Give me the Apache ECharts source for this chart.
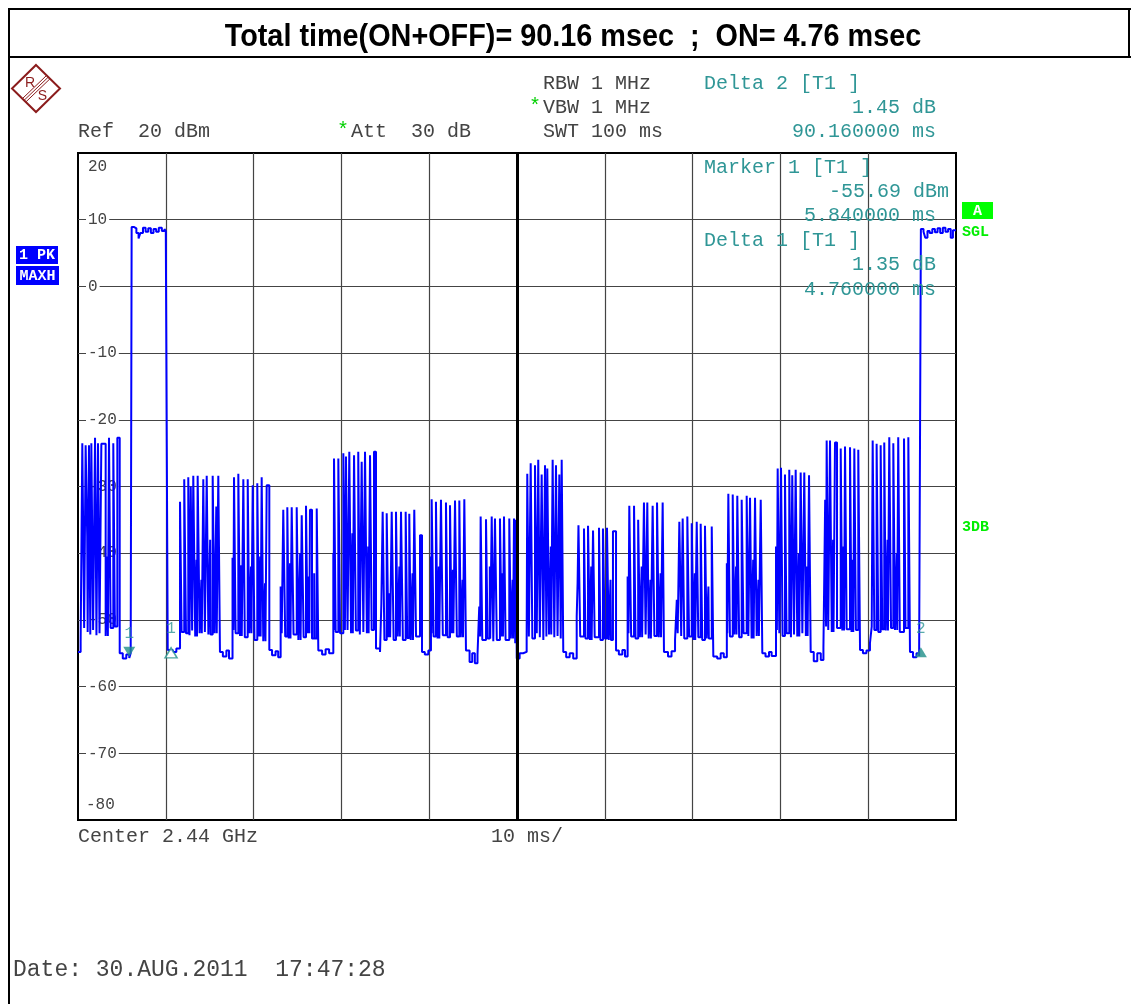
<!DOCTYPE html>
<html>
<head>
<meta charset="utf-8">
<title>Total time(ON+OFF)</title>
<script src="https://cdn.jsdelivr.net/npm/echarts@6/dist/echarts.min.js"></script>
<style>
html, body { margin: 0; padding: 0; background: #fff; }
#box1 { width: 1131px; height: 1004px; }
</style>
</head>
<body>
<div id="box1"></div>
<script>
const leadIn = [[0, -54.8], [0.3, -53.3]];
const burst01 = [[0.49,-23.5],[0.7,-51.2],[0.87,-23.8],[1.05,-37.5],[1.1,-51.8],[1.25,-23.8],[1.4,-52.2],[1.52,-23.5],[1.72,-51.5],[1.94,-22.7],[2.1,-52.3],[2.28,-23.5],[2.45,-52.0],[2.66,-23.6],[3.15,-52.4],[3.32,-40.5],[3.4,-52.4],[3.53,-22.7],[3.72,-51.2],[4.02,-23.5],[4.2,-51.0],[4.48,-22.7],[4.75,-55.0],[5.1,-55.8],[5.5,-55.2],[5.84,-55.7],[6.0,-55.0]];
const onPulse1 = [[6.11,8.9],[6.4,8.7],[6.65,8.0],[6.9,7.2],[7.1,8.0],[7.4,8.8],[7.7,8.2],[8.0,8.7],[8.3,8.0],[8.6,8.6],[8.9,8.2],[9.2,8.8],[9.55,8.3],[9.85,8.6],[10.0,8.3],[10.22,-54.5]];
const burst02 = [[10.8,-54.8],[11.2,-54.3],[11.62,-32.3],[11.8,-51.8],[12.1,-28.9],[12.3,-52.0],[12.56,-28.6],[12.7,-52.3],[12.84,-30.0],[13.0,-51.6],[13.13,-28.4],[13.35,-52.5],[13.5,-41.0],[13.55,-52.5],[13.63,-28.4],[13.85,-52.0],[14.05,-44.0],[14.1,-52.0],[14.27,-28.9],[14.45,-51.8],[14.66,-28.4],[14.85,-52.2],[15.05,-38.0],[15.1,-52.2],[15.34,-28.4],[15.55,-52.0],[15.75,-33.0],[15.8,-52.0],[15.98,-28.4],[16.17,-54.8],[16.5,-55.5],[16.9,-54.6],[17.2,-55.8]];
const burst03 = [[17.6,-40.7],[17.7,-51.5],[17.77,-28.6],[17.95,-52.0],[18.26,-28.1],[18.45,-52.4],[18.6,-41.8],[18.65,-52.4],[18.83,-28.9],[19.0,-52.6],[19.33,-28.9],[19.5,-52.0],[19.7,-42.0],[19.75,-52.0],[19.9,-29.8],[20.1,-53.0],[20.42,-29.5],[20.6,-52.5],[20.75,-40.5],[20.8,-52.5],[20.92,-28.6],[21.1,-53.2],[21.3,-44.5],[21.35,-53.2],[21.49,-29.8],[21.79,-54.5],[22.1,-55.3],[22.5,-54.7],[22.8,-55.6]];
const burst04 = [[23.08,-45.0],[23.2,-52.0],[23.38,-33.5],[23.6,-52.5],[23.84,-33.1],[24.0,-52.8],[24.15,-41.5],[24.2,-52.8],[24.34,-33.1],[24.55,-52.2],[24.91,-33.1],[25.1,-53.0],[25.3,-40.0],[25.35,-53.0],[25.48,-34.3],[25.7,-52.6],[25.97,-32.9],[26.15,-52.0],[26.3,-43.5],[26.35,-52.0],[26.42,-33.5],[26.65,-52.8],[26.9,-43.0],[26.95,-52.8],[27.19,-33.3],[27.37,-54.6],[27.8,-55.2],[28.2,-54.4],[28.6,-55.0]];
const burst05 = [[29.08,-40.0],[29.12,-51.5],[29.16,-25.8],[29.35,-51.8],[29.65,-25.8],[29.85,-52.0],[30.22,-25.0],[30.4,-51.5],[30.52,-25.5],[30.7,-51.5],[30.9,-24.8],[31.1,-52.0],[31.25,-37.0],[31.3,-52.0],[31.44,-25.3],[31.65,-51.6],[31.92,-24.8],[32.1,-52.2],[32.31,-26.3],[32.5,-51.8],[32.69,-24.8],[32.9,-52.0],[33.05,-39.0],[33.1,-52.0],[33.26,-25.3],[33.45,-51.5],[33.71,-24.8],[33.94,-54.3]];
const burst06 = [[34.4,-54.8],[34.55,-47.5],[34.7,-33.8],[34.9,-53.0],[35.16,-34.0],[35.35,-52.6],[35.5,-46.0],[35.55,-52.6],[35.73,-33.8],[35.95,-53.0],[36.22,-33.8],[36.4,-52.5],[36.6,-42.0],[36.65,-52.5],[36.79,-33.8],[37.0,-53.0],[37.32,-33.8],[37.5,-52.7],[37.73,-34.1],[37.9,-53.0],[38.1,-43.0],[38.15,-53.0],[38.3,-33.5],[38.5,-52.5],[38.95,-37.3],[39.18,-54.8],[39.5,-55.2],[39.9,-54.6]];
const burst07 = [[40.2,-40.5],[40.25,-52.0],[40.28,-31.9],[40.5,-52.5],[40.77,-32.3],[40.95,-52.8],[41.1,-42.0],[41.15,-52.8],[41.34,-32.0],[41.55,-52.3],[41.91,-32.4],[42.1,-52.6],[42.37,-32.8],[42.55,-52.0],[42.7,-42.5],[42.75,-52.0],[42.94,-32.1],[43.15,-52.5],[43.43,-32.1],[43.6,-52.6],[43.8,-44.0],[43.85,-52.6],[44.0,-31.9],[44.19,-54.6],[44.6,-56.3],[44.9,-55.0],[45.2,-56.5],[45.5,-55.3]];
const burst08 = [[45.7,-48.0],[45.8,-52.5],[45.86,-34.5],[46.05,-53.0],[46.47,-34.9],[46.65,-52.8],[46.9,-42.0],[46.95,-52.8],[47.12,-34.5],[47.3,-53.2],[47.49,-34.8],[47.7,-53.0],[48.06,-34.8],[48.25,-52.5],[48.35,-43.0],[48.4,-52.5],[48.52,-34.5],[48.7,-53.0],[49.12,-34.8],[49.3,-52.8],[49.5,-44.0],[49.55,-52.8],[49.66,-34.8],[49.8,-53.5],[49.89,-35.0],[49.97,-55.8],[50.3,-55.0],[50.7,-54.8]];
const burst09 = [[51.1,-53.0],[51.17,-28.1],[51.35,-52.5],[51.56,-26.5],[51.75,-52.8],[52.05,-26.8],[52.25,-52.0],[52.42,-26.0],[52.6,-52.6],[52.81,-28.2],[53.0,-53.0],[53.19,-26.8],[53.35,-52.5],[53.45,-27.3],[53.65,-52.2],[53.85,-39.0],[53.9,-52.2],[54.06,-26.0],[54.25,-52.6],[54.44,-26.8],[54.62,-52.4],[54.82,-28.2],[54.98,-52.8],[55.09,-26.0],[55.27,-54.8],[55.6,-55.6],[56.0,-55.0],[56.4,-55.8]];
const burst10 = [[56.8,-49.5],[56.9,-44.5],[57.0,-35.8],[57.2,-52.5],[57.63,-36.3],[57.8,-52.8],[58.09,-35.9],[58.3,-53.0],[58.45,-42.0],[58.5,-53.0],[58.66,-36.6],[58.85,-52.6],[59.34,-36.2],[59.5,-53.0],[59.79,-36.3],[60.0,-52.8],[60.25,-36.2],[60.45,-53.0],[60.65,-44.0],[60.7,-53.0],[60.93,-36.7],[61.28,-54.6],[61.6,-55.2],[62.0,-54.5],[62.3,-55.5]];
const burst11 = [[62.6,-43.5],[62.7,-52.0],[62.79,-32.9],[63.0,-52.5],[63.33,-32.9],[63.5,-52.8],[63.8,-35.0],[64.0,-52.6],[64.2,-42.0],[64.25,-52.6],[64.46,-32.4],[64.65,-52.2],[64.84,-32.4],[65.0,-52.8],[65.2,-44.0],[65.25,-52.8],[65.45,-32.9],[65.65,-52.4],[65.95,-32.4],[66.15,-52.6],[66.35,-43.0],[66.4,-52.6],[66.59,-32.4],[66.74,-54.8],[67.2,-55.5],[67.6,-54.7],[68.0,-53.0]];
const burst12 = [[68.2,-47.0],[68.3,-52.0],[68.49,-35.3],[68.7,-52.4],[68.87,-34.8],[69.05,-52.8],[69.4,-34.5],[69.6,-52.5],[69.9,-35.5],[70.1,-53.0],[70.25,-43.0],[70.3,-53.0],[70.47,-35.3],[70.65,-52.6],[70.92,-35.6],[71.1,-53.0],[71.41,-35.9],[71.6,-52.8],[71.8,-45.0],[71.85,-52.8],[72.18,-36.0],[72.36,-55.5],[72.8,-55.8],[73.2,-55.0],[73.55,-55.6]];
const burst13 = [[73.9,-41.5],[73.95,-52.0],[74.07,-31.1],[74.25,-52.5],[74.57,-31.2],[74.75,-52.2],[74.95,-42.0],[75.0,-52.2],[75.09,-31.4],[75.3,-52.6],[75.59,-32.0],[75.8,-52.0],[76.16,-31.4],[76.35,-52.4],[76.54,-31.7],[76.72,-52.8],[76.9,-41.0],[76.95,-52.8],[77.11,-31.7],[77.3,-52.4],[77.5,-44.0],[77.55,-52.4],[77.76,-32.0],[77.94,-55.0],[78.3,-55.5],[78.7,-54.8],[79.0,-55.4]];
const burst14 = [[79.5,-39.0],[79.6,-51.5],[79.69,-27.3],[79.88,-52.0],[80.07,-27.2],[80.25,-52.4],[80.52,-28.2],[80.7,-52.0],[81.01,-27.5],[81.2,-52.6],[81.35,-28.3],[81.55,-52.2],[81.74,-27.5],[81.92,-52.5],[82.1,-40.0],[82.15,-52.5],[82.31,-27.9],[82.5,-52.0],[82.72,-27.9],[82.9,-52.4],[83.05,-42.0],[83.1,-52.4],[83.26,-28.3],[83.45,-54.8],[83.8,-56.2],[84.2,-55.0],[84.6,-56.0],[84.9,-54.2]];
const burst15 = [[85.1,-32.0],[85.2,-51.0],[85.27,-23.1],[85.45,-51.5],[85.65,-23.1],[85.85,-51.8],[86.0,-38.0],[86.05,-51.8],[86.22,-23.4],[86.45,-51.2],[86.87,-24.3],[87.05,-51.6],[87.2,-39.0],[87.25,-51.6],[87.36,-24.0],[87.55,-51.4],[87.93,-24.1],[88.1,-51.8],[88.25,-41.0],[88.3,-51.8],[88.42,-24.3],[88.6,-51.5],[88.87,-24.5],[89.07,-54.5],[89.4,-55.0],[89.8,-54.6],[90.2,-53.5]];
const burst16 = [[90.4,-51.0],[90.51,-23.1],[90.7,-51.5],[90.96,-23.6],[91.15,-51.8],[91.42,-23.8],[91.6,-51.4],[91.83,-23.4],[92.0,-51.6],[92.2,-38.0],[92.25,-51.6],[92.4,-22.6],[92.6,-51.2],[92.86,-23.5],[93.05,-51.5],[93.25,-40.0],[93.3,-51.5],[93.42,-22.6],[93.6,-51.8],[94.08,-22.8],[94.25,-51.2],[94.57,-22.6],[94.76,-54.8],[95.1,-55.6],[95.5,-55.0],[95.8,-55.4]];
const onPulse2 = [[96.0,8.6],[96.3,8.2],[96.5,7.3],[96.75,8.3],[97.0,8.0],[97.3,8.6],[97.6,8.1],[97.9,8.7],[98.2,8.0],[98.5,8.8],[98.8,8.2],[99.1,8.6],[99.4,7.3],[99.65,8.4],[100,8.4]];

// markers: M1, D1, D2
const markerNames = ["1", "1", "2"];
const markerTimes = [5.84, 10.6, 96.0];
const markerLevels = [-55.69, -54.34, -54.24];

const yTicks = [20, 10, 0, -10, -20, -30, -40, -50, -60, -70, -80];

const MONO = '"Liberation Mono", "DejaVu Sans Mono", monospace';
const TEAL = "#2f9696";
const GREY = "#444";

function txt(x, y, s, size, color, align, bold) {
  return {
    type: "text",
    x: x,
    y: y,
    silent: true,
    z: 10,
    style: {
      text: s,
      font: (bold ? "bold " : "") + size + "px " + MONO,
      fill: color,
      align: align || "left",
      textAlign: align || "left",
      verticalAlign: "middle",
      textVerticalAlign: "middle",
    },
  };
}

let myCharts = echarts.init(document.getElementById("box1"), null, { renderer: "canvas" });

const trace = [].concat(leadIn, burst01, onPulse1, burst02, burst03, burst04, burst05, burst06,
  burst07, burst08, burst09, burst10, burst11, burst12, burst13, burst14, burst15, burst16, onPulse2);

const markerData = markerTimes.map((t, i) => {
  const down = i === 0;
  const hollow = i === 1;
  return {
    value: [t, markerLevels[i]],
    name: markerNames[i],
    symbolRotate: down ? 180 : 0,
    symbolOffset: down ? [0, -6] : [0, 4],
    itemStyle: hollow
      ? { color: "#fff", borderColor: "#1f8f88", borderWidth: 1.5 }
      : { color: "#1f8f88" },
    label: { distance: down ? 5 : 10 },
  };
});

const graphics = [
  // frame
  { type: "line", shape: { x1: 9, y1: 9, x2: 1131, y2: 9 }, style: { stroke: "#000", lineWidth: 2 } },
  { type: "line", shape: { x1: 9, y1: 57, x2: 1131, y2: 57 }, style: { stroke: "#000", lineWidth: 2 } },
  { type: "line", shape: { x1: 9, y1: 8, x2: 9, y2: 1004 }, style: { stroke: "#000", lineWidth: 2 } },
  { type: "line", shape: { x1: 1129, y1: 8, x2: 1129, y2: 57 }, style: { stroke: "#000", lineWidth: 2 } },
  {
    type: "text", x: 573, y: 37, scaleX: 0.9, silent: true,
    style: {
      text: "Total time(ON+OFF)= 90.16 msec  ;  ON= 4.76 msec",
      font: 'bold 32px "Liberation Sans", Arial, sans-serif',
      fill: "#000", align: "center", textAlign: "center",
      verticalAlign: "middle", textVerticalAlign: "middle",
    },
  },
  // R&S logo
  {
    type: "group", silent: true,
    children: [
      { type: "polygon", shape: { points: [[36, 65], [60, 88.5], [36, 112], [12, 88.5]] }, style: { fill: "none", stroke: "#8b1c1c", lineWidth: 2 } },
      { type: "line", shape: { x1: 46.5, y1: 75.5, x2: 22.5, y2: 98.5 }, style: { stroke: "#8b1c1c", lineWidth: 1 } },
      { type: "line", shape: { x1: 48.2, y1: 77.2, x2: 24.2, y2: 100.2 }, style: { stroke: "#8b1c1c", lineWidth: 1 } },
      { type: "line", shape: { x1: 49.9, y1: 78.9, x2: 25.9, y2: 101.9 }, style: { stroke: "#8b1c1c", lineWidth: 1 } },
      { type: "text", x: 30, y: 83, style: { text: "R", font: '14px "Liberation Sans"', fill: "#8b1c1c", align: "center", verticalAlign: "middle" } },
      { type: "text", x: 42.5, y: 96, style: { text: "S", font: '14px "Liberation Sans"', fill: "#8b1c1c", align: "center", verticalAlign: "middle" } },
    ],
  },
  // header readouts
  txt(78, 132, "Ref  20 dBm", 20, GREY),
  txt(337, 131, "*", 20, "#00d000"),
  txt(351, 132, "Att  30 dB", 20, GREY),
  txt(543, 84, "RBW 1 MHz", 20, GREY),
  txt(529, 107, "*", 20, "#00d000"),
  txt(543, 108, "VBW 1 MHz", 20, GREY),
  txt(543, 132, "SWT 100 ms", 20, GREY),
  txt(704, 84, "Delta 2 [T1 ]", 20, TEAL),
  txt(936, 108, "1.45 dB", 20, TEAL, "right"),
  txt(936, 132, "90.160000 ms", 20, TEAL, "right"),
  // marker readouts inside the screen
  txt(704, 168, "Marker 1 [T1 ]", 20, TEAL),
  txt(949, 192, "-55.69 dBm", 20, TEAL, "right"),
  txt(936, 216, "5.840000 ms", 20, TEAL, "right"),
  txt(704, 241, "Delta 1 [T1 ]", 20, TEAL),
  txt(936, 265, "1.35 dB", 20, TEAL, "right"),
  txt(936, 290, "4.760000 ms", 20, TEAL, "right"),
  // footer
  txt(78, 837, "Center 2.44 GHz", 20, GREY),
  txt(491, 837, "10 ms/", 20, GREY),
  txt(13, 970, "Date: 30.AUG.2011  17:47:28", 23, GREY),
  // side badges
  { type: "rect", shape: { x: 16, y: 246, width: 42, height: 18 }, style: { fill: "#0000ff" } },
  txt(37, 255, "1 PK", 15, "#fff", "center", true),
  { type: "rect", shape: { x: 16, y: 266, width: 43, height: 19 }, style: { fill: "#0000ff" } },
  txt(37.5, 276, "MAXH", 15, "#fff", "center", true),
  { type: "rect", shape: { x: 962, y: 202, width: 31, height: 17 }, style: { fill: "#00ff00" } },
  txt(977.5, 211, "A", 15, "#fff", "center", true),
  txt(962, 232, "SGL", 15, "#00ee00", "left", true),
  txt(962, 527, "3DB", 15, "#00ee00", "left", true),
];

myCharts.setOption({
  animation: false,
  backgroundColor: "#fff",
  grid: {
    left: 78,
    top: 153,
    width: 878,
    height: 667,
    show: true,
    backgroundColor: "#fff",
    borderColor: "#000",
    borderWidth: 2,
    outerBoundsMode: "none",
  },
  xAxis: {
    type: "value",
    min: 0,
    max: 100,
    interval: 10,
    axisLine: { show: false },
    axisTick: { show: false },
    axisLabel: { show: false },
    splitLine: { show: true, showMinLine: false, showMaxLine: false, lineStyle: { color: "#444", width: 1.2 } },
  },
  yAxis: {
    type: "value",
    min: -80,
    max: 20,
    interval: 10,
    axisLine: { show: false },
    axisTick: { show: false },
    splitLine: { show: true, showMinLine: false, showMaxLine: false, lineStyle: { color: "#444", width: 1.2 } },
    axisLabel: {
      inside: true,
      margin: 8,
      color: GREY,
      fontFamily: MONO,
      fontSize: 16,
      verticalAlignMaxLabel: "top",
      verticalAlignMinLabel: "bottom",
      formatter: (v) => {
        if (v === yTicks[0]) return "{edgeT|" + v + "}";
        if (v === yTicks[yTicks.length - 1]) return "{edgeB|" + v + "}";
        return "{mid|" + v + "}";
      },
      rich: {
        edgeT: { fontFamily: MONO, fontSize: 16, color: GREY, padding: [6, 0, 0, 2] },
        edgeB: { fontFamily: MONO, fontSize: 16, color: GREY, padding: [0, 0, 7, 0] },
        mid: { fontFamily: MONO, fontSize: 16, color: GREY, backgroundColor: "#fff", padding: [1, 2] },
      },
    },
  },
  series: [
    {
      name: "1 PK MAXH",
      type: "line",
      step: "end",
      data: trace,
      showSymbol: false,
      lineStyle: { color: "#0000ff", width: 2 },
      z: 3,
      markLine: {
        silent: true,
        symbol: "none",
        label: { show: false },
        lineStyle: { color: "#000", width: 3, type: "solid" },
        data: [{ xAxis: 50 }],
      },
    },
    {
      name: "markers",
      type: "scatter",
      symbol: "triangle",
      symbolSize: [12, 10],
      data: markerData,
      z: 5,
      label: {
        show: true,
        position: "top",
        formatter: (p) => p.name,
        color: TEAL,
        fontFamily: MONO,
        fontSize: 16,
      },
    },
  ],
  graphic: graphics,
});
</script>
</body>
</html>
